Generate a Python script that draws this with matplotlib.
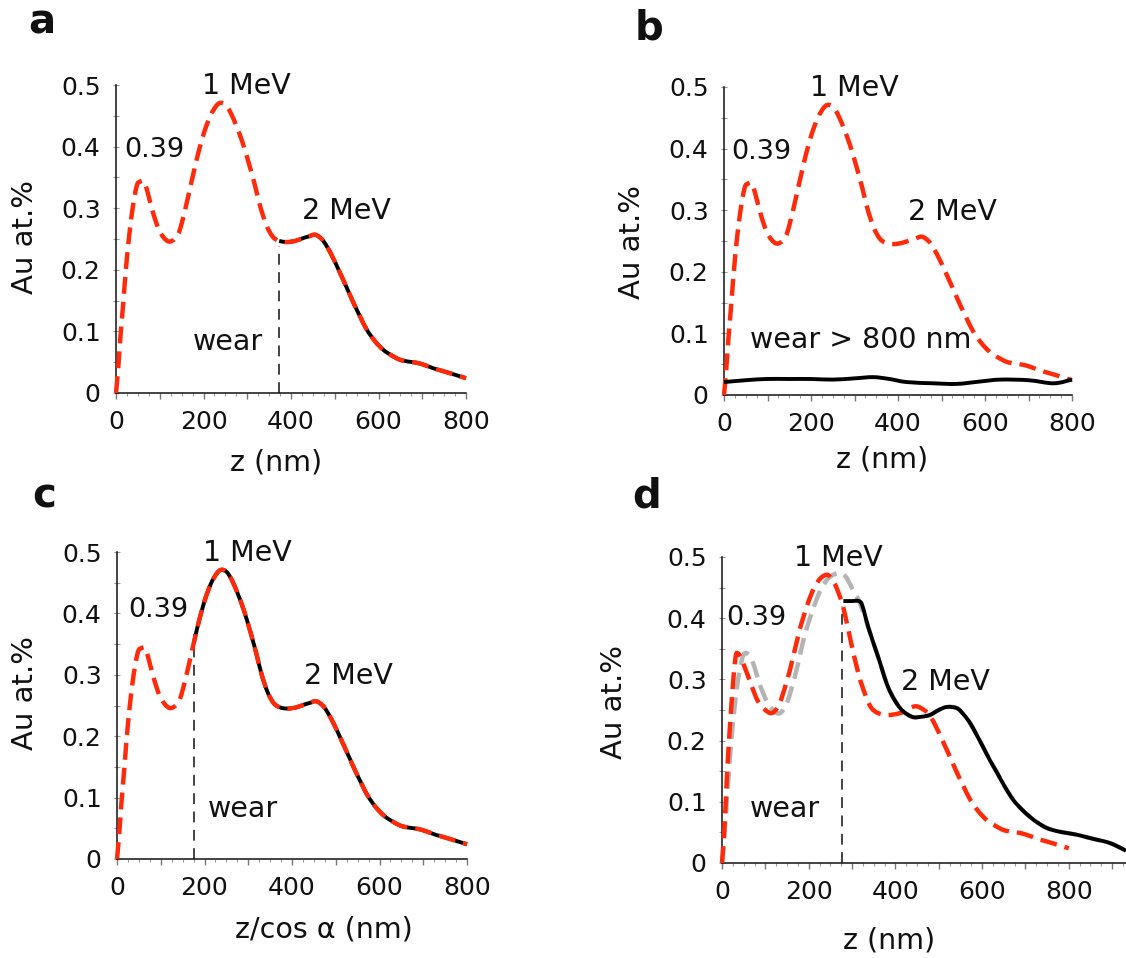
import numpy as np
import matplotlib
matplotlib.use("Agg")
import matplotlib.pyplot as plt
from matplotlib.ticker import MultipleLocator, FixedLocator, FuncFormatter
from matplotlib.path import Path
from matplotlib.patches import PathPatch

# ---------------- data ----------------
# implanted Au profile (red dashed), panels a, b, c
z_red = [0, 5, 10, 17, 25, 36, 47, 55, 66, 85, 100, 120, 139, 150, 165, 184, 200,
         215, 228, 238, 250, 262, 276, 290, 304, 318, 330, 344, 358, 372, 390, 410,
         430, 440, 455, 470, 482, 497, 512, 528, 543, 558, 573, 592, 611, 630, 649,
         668, 688, 707, 726, 745, 764, 782, 800]
au_red = [0, 0.04, 0.09, 0.15, 0.22, 0.29, 0.335, 0.343, 0.34, 0.292, 0.262, 0.246,
          0.254, 0.275, 0.319, 0.378, 0.42, 0.449, 0.465, 0.471, 0.468, 0.455, 0.432,
          0.405, 0.372, 0.336, 0.302, 0.272, 0.254, 0.247, 0.245, 0.247, 0.252, 0.254,
          0.257, 0.25, 0.238, 0.218, 0.195, 0.17, 0.146, 0.124, 0.103, 0.084, 0.07,
          0.061, 0.054, 0.051, 0.049, 0.045, 0.04, 0.036, 0.032, 0.028, 0.024]

# wear depths (vertical dashed lines)
wear_a, wear_a_top = 373, 0.238
wear_c, wear_c_top = 176, 0.367
wear_d, wear_d_top = 277, 0.42

# panel b: remaining Au after wear > 800 nm
z_b_black = [0, 50, 98, 150, 200, 250, 300, 343, 380, 420, 481, 535, 590, 635, 700, 758, 800]
au_b_black = [0.021, 0.024, 0.026, 0.026, 0.026, 0.025, 0.027, 0.029, 0.026, 0.021,
              0.019, 0.018, 0.022, 0.025, 0.024, 0.019, 0.025]

# panel d: red dashed profile
z_red_d = [0, 4, 8, 12, 18, 25, 31, 36, 47, 68, 85, 111, 128, 140, 158, 178, 196, 212,
           227, 242, 252, 264, 280, 299, 311, 323, 345, 376, 411, 430, 449, 470, 482,
           497, 512, 528, 543, 558, 573, 592, 611, 630, 649, 668, 688, 707, 726, 745,
           764, 782, 800]
au_red_d = [0, 0.04, 0.09, 0.15, 0.22, 0.29, 0.335, 0.343, 0.33, 0.29, 0.262, 0.245,
            0.254, 0.275, 0.319, 0.378, 0.42, 0.449, 0.465, 0.471, 0.465, 0.45, 0.417,
            0.356, 0.32, 0.29, 0.253, 0.242, 0.245, 0.252, 0.256, 0.248, 0.238, 0.218,
            0.195, 0.17, 0.146, 0.124, 0.103, 0.084, 0.07, 0.061, 0.054, 0.051, 0.049,
            0.045, 0.04, 0.036, 0.032, 0.028, 0.024]

# panel d: gray dashed (stretched) profile
z_gray_d = [0, 5, 10, 16, 24, 35, 47, 57, 70, 88, 105, 120, 134, 150, 170, 190, 210,
            228, 245, 260, 273, 285, 295, 305, 318, 338, 361, 384, 411, 438, 460, 480,
            500, 519, 542, 557, 572, 587, 602, 618, 635, 653, 672, 691, 711, 730, 750,
            773, 796, 820, 842, 865, 889, 910, 932]
au_gray_d = [0, 0.04, 0.09, 0.15, 0.22, 0.29, 0.335, 0.343, 0.33, 0.29, 0.262, 0.248,
             0.245, 0.262, 0.31, 0.37, 0.415, 0.447, 0.465, 0.472, 0.474, 0.468, 0.456,
             0.442, 0.425, 0.384, 0.335, 0.286, 0.253, 0.239, 0.239, 0.242, 0.25, 0.255,
             0.253, 0.243, 0.229, 0.21, 0.19, 0.168, 0.147, 0.124, 0.103, 0.088, 0.075,
             0.065, 0.057, 0.052, 0.049, 0.046, 0.042, 0.038, 0.034, 0.028, 0.02]

# panel d: black measured profile
z_black_d = [280, 300, 316, 324, 338, 361, 384, 411, 438, 460, 480, 500, 519, 542, 557,
             572, 587, 602, 618, 635, 653, 672, 691, 711, 730, 750, 773, 796, 820, 842,
             865, 889, 910, 932]
au_black_d = [0.428, 0.428, 0.428, 0.42, 0.384, 0.335, 0.286, 0.253, 0.239, 0.239,
              0.242, 0.25, 0.255, 0.253, 0.243, 0.229, 0.21, 0.19, 0.168, 0.147, 0.124,
              0.103, 0.088, 0.075, 0.065, 0.057, 0.052, 0.049, 0.046, 0.042, 0.038,
              0.034, 0.028, 0.02]

x_tick_labels = [0, 200, 400, 600, 800]
y_tick_labels = [0, 0.1, 0.2, 0.3, 0.4, 0.5]

# ---------------- style ----------------
plt.rcParams['font.family'] = ['DejaVu Sans']
RED = '#ff2a0a'
GRAY = '#b4b4b4'
TXT = '#111111'
LW_RED = 3.2
LW_BLK = 2.8
RED_DASH = (3.8, 1.8)

fig = plt.figure(figsize=(11.26, 9.58), dpi=100)
W, H = 1126.0, 958.0


def make_ax(left, right, top, bottom, xmax):
    ax = fig.add_axes([left / W, 1 - bottom / H, (right - left) / W, (bottom - top) / H])
    ax.set_xlim(0, xmax)
    ax.set_ylim(0, 0.5)
    for s in ['top', 'right']:
        ax.spines[s].set_visible(False)
    for s in ['left', 'bottom']:
        ax.spines[s].set_linewidth(1.1)
        ax.spines[s].set_color('#111111')
    ax.xaxis.set_major_locator(MultipleLocator(100))
    ax.xaxis.set_minor_locator(MultipleLocator(25))
    ax.xaxis.set_major_formatter(FuncFormatter(
        lambda v, p: f"{int(round(v))}" if int(round(v)) in x_tick_labels else ""))
    ax.yaxis.set_major_locator(FixedLocator(y_tick_labels))
    ax.yaxis.set_minor_locator(MultipleLocator(0.05))
    ax.yaxis.set_major_formatter(FuncFormatter(lambda v, p: "0" if abs(v) < 1e-9 else f"{v:.1f}"))
    ax.tick_params(axis='x', which='major', direction='out', length=4, width=1,
                   color='#777777', labelsize=18, pad=8, labelcolor=TXT)
    ax.tick_params(axis='x', which='minor', direction='out', length=2.5, width=0.8,
                   color='#999999')
    ax.tick_params(axis='y', which='major', direction='inout', length=4, width=0.8,
                   color='#999999', labelsize=18, pad=9, labelcolor=TXT)
    ax.tick_params(axis='y', which='minor', direction='inout', length=4, width=0.8,
                   color='#999999')
    return ax


def smooth_line(ax, x, y, color, lw, dashes=None, zorder=3):
    """Excel-style smoothed line: cubic Bezier path through the data points."""
    x = np.asarray(x, float)
    y = np.asarray(y, float)
    n = len(x)
    verts = [(x[0], y[0])]
    codes = [Path.MOVETO]
    for i in range(n - 1):
        i0 = max(i - 1, 0)
        i3 = min(i + 2, n - 1)
        c1 = (x[i] + (x[i + 1] - x[i0]) / 6.0, y[i] + (y[i + 1] - y[i0]) / 6.0)
        c2 = (x[i + 1] - (x[i3] - x[i]) / 6.0, y[i + 1] - (y[i3] - y[i]) / 6.0)
        verts += [c1, c2, (x[i + 1], y[i + 1])]
        codes += [Path.CURVE4] * 3
    ls = '-' if dashes is None else (0, dashes)
    patch = PathPatch(Path(verts, codes), facecolor='none', edgecolor=color, lw=lw,
                      linestyle=ls, capstyle='butt', joinstyle='round',
                      clip_on=False, zorder=zorder)
    ax.add_patch(patch)
    return patch


def wear_line(ax, x, top):
    ln, = ax.plot([x, x], [0, top], color='#222222', lw=1.2, zorder=2, clip_on=False)
    ln.set_dashes((6.5, 4.5))


def labels(ax, xlabel, xl_pos, yl_pos):
    ax.text(yl_pos[0], yl_pos[1], "Au at.%", transform=ax.transAxes, rotation=90,
            ha='center', va='center', fontsize=21, color=TXT)
    ax.text(xl_pos[0], xl_pos[1], xlabel, transform=ax.transAxes,
            ha='center', va='center', fontsize=20.5, color=TXT)


def annot(ax, x, y, s, size=20.5):
    ax.text(x, y, s, ha='center', va='center', fontsize=size, color=TXT, zorder=6)


z_red_arr = np.array(z_red, dtype=float)
au_red_arr = np.array(au_red, dtype=float)


def after_wear(w):
    m = z_red_arr >= w
    zz = np.concatenate([[w], z_red_arr[m]])
    yy = np.concatenate([[np.interp(w, z_red_arr, au_red_arr)], au_red_arr[m]])
    return zz, yy


# ---------------- panel a ----------------
ax_a = make_ax(116, 466, 85, 393, 800)
wear_line(ax_a, wear_a, wear_a_top)
za, ya = after_wear(wear_a)
smooth_line(ax_a, za, ya, 'black', LW_BLK, zorder=3)
smooth_line(ax_a, z_red, au_red, RED, LW_RED, RED_DASH, zorder=4)
annot(ax_a, 87, 0.394, "0.39", 19.5)
annot(ax_a, 299, 0.498, "1 MeV")
annot(ax_a, 527, 0.296, "2 MeV")
annot(ax_a, 255, 0.083, "wear")
labels(ax_a, "z (nm)", (0.457, -0.227), (-0.26, 0.506))

# ---------------- panel b ----------------
ax_b = make_ax(724, 1072, 87, 395, 800)
smooth_line(ax_b, z_red, au_red, RED, LW_RED, RED_DASH, zorder=4)
smooth_line(ax_b, z_b_black, au_b_black, 'black', LW_BLK, zorder=5)
annot(ax_b, 85, 0.395, "0.39", 19.5)
annot(ax_b, 299, 0.499, "1 MeV")
annot(ax_b, 525, 0.297, "2 MeV")
annot(ax_b, 315, 0.089, "wear > 800 nm")
labels(ax_b, "z (nm)", (0.454, -0.211), (-0.264, 0.498))

# ---------------- panel c ----------------
ax_c = make_ax(117, 467, 552, 859, 800)
wear_line(ax_c, wear_c, wear_c_top)
zc, yc = after_wear(wear_c)
smooth_line(ax_c, zc, yc, 'black', LW_BLK, zorder=3)
smooth_line(ax_c, z_red, au_red, RED, LW_RED, RED_DASH, zorder=4)
annot(ax_c, 94, 0.405, "0.39", 19.5)
annot(ax_c, 298, 0.498, "1 MeV")
annot(ax_c, 529, 0.298, "2 MeV")
annot(ax_c, 287, 0.081, "wear")
labels(ax_c, "z/cos \u03b1 (nm)", (0.591, -0.231), (-0.263, 0.54))

# ---------------- panel d ----------------
ax_d = make_ax(722, 1126, 557, 863, 932)
smooth_line(ax_d, z_gray_d, au_gray_d, GRAY, LW_RED, RED_DASH, zorder=2)
smooth_line(ax_d, z_red_d, au_red_d, RED, LW_RED, RED_DASH, zorder=3)
wear_line(ax_d, wear_d, wear_d_top)
smooth_line(ax_d, z_black_d, au_black_d, 'black', LW_BLK, zorder=5)
annot(ax_d, 80, 0.40, "0.39", 19.5)
annot(ax_d, 268, 0.498, "1 MeV")
annot(ax_d, 515, 0.296, "2 MeV")
annot(ax_d, 145, 0.088, "wear")
labels(ax_d, "z (nm)", (0.413, -0.252), (-0.267, 0.526))

# ---------------- panel letters ----------------
for (lx, ly, s) in [(28, 33, 'a'), (635, 40, 'b'), (32, 508, 'c'), (632, 508, 'd')]:
    fig.text(lx / W, 1 - ly / H, s, fontsize=29, fontweight='bold', ha='left',
             va='baseline', color=TXT)

fig.savefig("out.png", dpi=100)
